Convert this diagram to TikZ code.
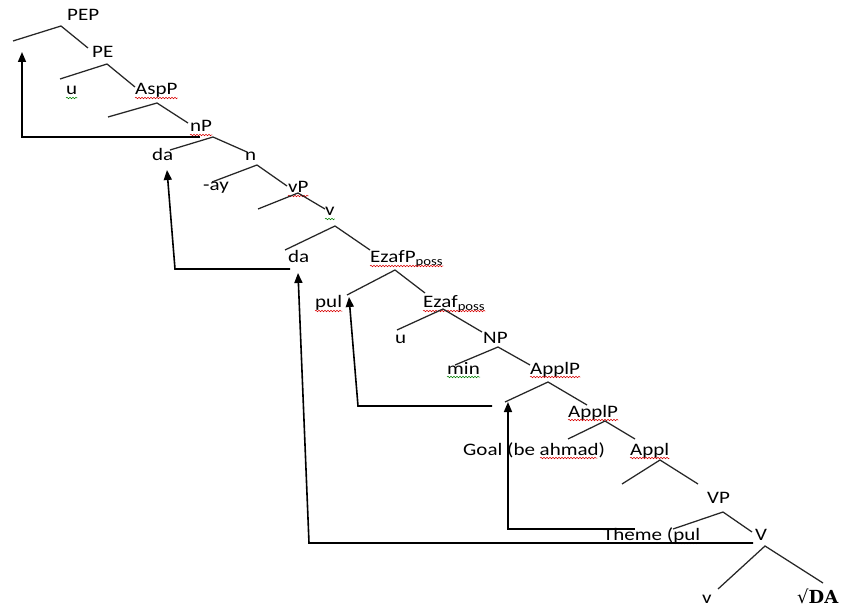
\documentclass[tikz,border=0pt]{standalone}
\usepackage{fontspec}
\setmainfont{Carlito}[FakeStretch=1.2]
\newfontfamily\rootfont{DejaVu Serif}
\usetikzlibrary{arrows.meta,decorations.pathmorphing}
\begin{document}
\begin{tikzpicture}[x=1pt,y=-1pt,
  lbl/.style={inner sep=0pt, anchor=base west, font=\fontsize{17.5}{20}\selectfont},
  branch/.style={line width=1.25pt, draw=black!85},
  mv/.style={line width=1.6pt, draw=black, -{Triangle[length=10pt,width=8pt]}},
  squig/.style={draw=red!85!black, line width=0.5pt, decorate,
    decoration={snake, amplitude=0.8pt, segment length=3pt}},
  squigg/.style={squig, draw=green!50!black}]
\useasboundingbox (0,0) rectangle (845,609);
\fill[white] (0,0) rectangle (845,609);

% labels
\node[lbl] (pep)   at (67,21)  {PEP};
\node[lbl] (pe)    at (92,58)  {PE};
\node[lbl] (u1)    at (66,95)  {u};
\node[lbl] (asp)   at (135,95) {AspP};
\node[lbl] (np1)   at (190,132) {nP};
\node[lbl] (da1)   at (152,161) {da};
\node[lbl] (n)     at (245,161) {n};
\node[lbl] (ay)    at (203,191) {-ay};
\node[lbl] (vp)    at (288,193) {vP};
\node[lbl] (v1)    at (325,216) {v};
\node[lbl] (da2)   at (288,263) {da};
\node[lbl] (ezp)   at (370,263) {EzafP\textsubscript{poss}};
\node[lbl] (pul)   at (315,308) {pul};
\node[lbl] (ez)    at (423,308) {Ezaf\textsubscript{poss}};
\node[lbl] (u2)    at (395,343) {u};
\node[lbl] (np2)   at (483,343) {NP};
\node[lbl] (min)   at (447,374) {min};
\node[lbl] (appl1) at (530,374) {ApplP};
\node[lbl] (appl2) at (568,417) {ApplP};
\node[lbl] (goal)  at (463,455) {Goal (be ahmad)};
\node[lbl] (appl)  at (630,455) {Appl};
\node[lbl] (VP)    at (707,503) {VP};
\node[lbl] (theme) at (603,540) {Theme (pul};
\node[lbl] (V)     at (755,540) {V};
\node[lbl] (v2)    at (702,603) {v};
\node[lbl, font=\rootfont\fontsize{18}{20}\selectfont] (root) at (797,603) {√\textbf{DA}};

% squiggly underlines
\foreach \w in {asp,np1,vp,ezp,pul,ez,appl1,appl2,appl}
  \draw[squig] ([yshift=-3pt]\w.base west) -- ([yshift=-3pt]\w.base east);
\foreach \w in {u1,v1,min}
  \draw[squigg] ([yshift=-3pt]\w.base west) -- ([yshift=-3pt]\w.base east);
\draw[squig] ([xshift=77pt,yshift=-3pt]goal.base west) -- ([xshift=-8pt,yshift=-3pt]goal.base east);
\draw[squig] ([xshift=70pt,yshift=-3pt]theme.base west) -- ([yshift=-3pt]theme.base east);

% tree branches
\foreach \n/\lx/\ly/\ax/\ay/\rx/\ry in {
  b1/13/41/61/26/88/48,
  b2/60/79/107/64/135/87,
  b3/108/117/157/103/188/123,
  b4/170/150/213/137/247/152,
  b5/212/182/257/165/287/186,
  b6/258/209/298/193/325/209,
  b7/285/250/335/226/370/250,
  b8/347/295/395/270/425/293,
  b9/397/330/443/309/482/332,
  b10/455/365/498/347/530/365,
  b11/505/402/548/382/587/405,
  b12/568/439/605/421/635/439,
  b13/622/484/660/460/698/484,
  b14/673/529/723/512/752/532,
  b15/718/589/765/546/823/583} {
  \coordinate (\n l) at (\lx,\ly);
  \coordinate (\n a) at (\ax,\ay);
  \coordinate (\n r) at (\rx,\ry);
  \draw[branch] (\n l) -- (\n a) -- (\n r);
}

% movement arrows
\coordinate (m1s) at (200,137); \coordinate (m1c) at (22,137);  \coordinate (m1t) at (22,52);
\coordinate (m2s) at (290,269); \coordinate (m2c) at (175,269); \coordinate (m2t) at (167,170);
\coordinate (m3s) at (492,406); \coordinate (m3c) at (358,406); \coordinate (m3t) at (349,297);
\coordinate (m4s) at (635,529); \coordinate (m4c) at (508,529); \coordinate (m4t) at (508,402);
\coordinate (m5s) at (753,543); \coordinate (m5c) at (309,543); \coordinate (m5t) at (298,273);
\draw[mv] (m1s) -- (m1c) -- (m1t);
\draw[mv] (m2s) -- (m2c) -- (m2t);
\draw[mv] (m3s) -- (m3c) -- (m3t);
\draw[mv] (m4s) -- (m4c) -- (m4t);
\draw[mv] (m5s) -- (m5c) -- (m5t);
\end{tikzpicture}
\end{document}
